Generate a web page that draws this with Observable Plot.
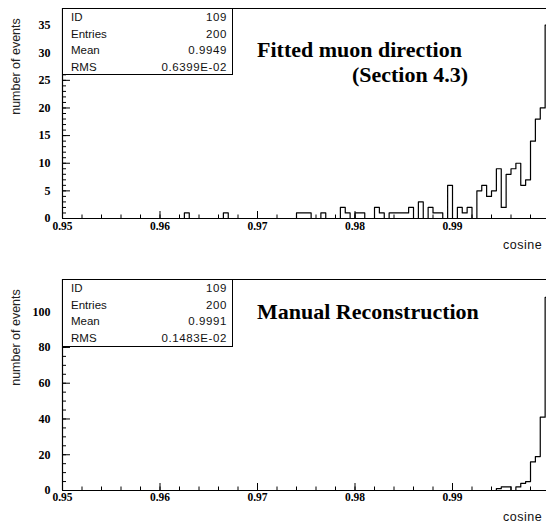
<!DOCTYPE html>
<html><head><meta charset="utf-8">
<script src="https://cdn.jsdelivr.net/npm/d3@7"></script>
<script src="https://cdn.jsdelivr.net/npm/@observablehq/plot@0.6"></script>
<style>
html,body{margin:0;padding:0;background:#fff;}
body{width:546px;height:526px;overflow:hidden;position:relative;}
.panel{position:relative;width:546px;overflow:hidden;}
.panel svg{display:block;}
.abs{position:absolute;white-space:nowrap;}
.title{font-family:"Liberation Serif",serif;font-weight:bold;font-size:22px;line-height:26px;color:#000;}
.stats{position:absolute;left:62px;width:171px;border:1px solid #000;background:#fff;box-sizing:border-box;font-family:"Liberation Sans",Arial,sans-serif;font-size:11.5px;color:#111;}
.stats .row{display:flex;justify-content:space-between;height:16.5px;line-height:16.5px;padding:0 5px 0 8px;}
.stats .val{letter-spacing:0.6px;}
.xlab{font-family:"Liberation Sans",Arial,sans-serif;font-size:12.5px;line-height:14px;color:#111;letter-spacing:0.5px;}
</style></head><body>
<div id="top" class="panel" style="height:252px"></div>
<div id="bot" class="panel" style="height:274px"></div>
<script>
// ---- data ----
const binStart = 0.95;
const binWidth = 0.0005;
const xDomain = [0.95, 0.99964];
const fittedCounts = [
  0,0,0,0,0,0,0,0,0,0,
  0,0,0,0,0,0,0,0,0,0,
  0,0,0,0,0,1,0,0,0,0,
  0,0,0,1,0,0,0,0,0,0,
  0,0,0,0,0,0,0,0,1,1,
  1,0,0,1,0,0,0,2,1,0,
  1,1,0,0,2,1,0,1,1,1,
  1,2,0,3,0,2,1,1,0,6,
  0,2,1,2,0,5,6,4,5,9,
  2,8,9,10,6,7,14,18,20,35
];
const manualCounts = [
  0,0,0,0,0,0,0,0,0,0,
  0,0,0,0,0,0,0,0,0,0,
  0,0,0,0,0,0,0,0,0,0,
  0,0,0,0,0,0,0,0,0,0,
  0,0,0,0,0,0,0,0,0,0,
  0,0,0,0,0,0,0,0,0,0,
  0,0,0,0,0,0,0,0,0,0,
  0,0,0,0,0,0,0,0,0,0,
  0,0,0,0,0,0,0,0,0,1,
  2,2,0,2,4,5,16,19,41,108
];
const xMajorTicks = [0.95, 0.96, 0.97, 0.98, 0.99];
const xMinorTicks = d3.range(0, 25).map(i => 0.95 + i * 0.002);
const fittedYMajor = [0, 5, 10, 15, 20, 25, 30, 35];
const fittedYMinor = d3.range(0, 39);
const fittedYMax = 38;
const manualYMajor = [0, 20, 40, 60, 80, 100];
const manualYMinor = d3.range(0, 120, 5);
const manualYMax = 118;
const fittedStats = [["ID", "109"], ["Entries", "200"], ["Mean", "0.9949"], ["RMS", "0.6399E-02"]];
const manualStats = [["ID", "109"], ["Entries", "200"], ["Mean", "0.9991"], ["RMS", "0.1483E-02"]];
const fittedTitle = ["Fitted muon direction", "(Section 4.3)"];
const manualTitle = ["Manual Reconstruction"];
const yTitle = "number of events";
const xTitle = "cosine";

const serif = "Liberation Serif, Times New Roman, serif";
const sans = "Liberation Sans, Arial, sans-serif";

function makePanel({counts, yMax, yMajor, yMinor, height, marginTop, marginBottom, labelDy}) {
  const width = 546, marginLeft = 62, marginRight = 0;
  const innerH = height - marginTop - marginBottom;
  const innerW = width - marginLeft - marginRight;
  const pts = counts.map((c, i) => ({x: binStart + i * binWidth, y: c}));
  pts.push({x: binStart + counts.length * binWidth, y: counts[counts.length - 1]});
  return Plot.plot({
    width, height, marginLeft, marginRight, marginTop, marginBottom,
    style: {background: "#fff", overflow: "visible"},
    x: {domain: xDomain, axis: null},
    y: {domain: [0, yMax], axis: null},
    marks: [
      Plot.line(pts, {x: "x", y: "y", curve: "step-after", stroke: "#000", strokeWidth: 1.2, clip: true}),
      Plot.tickX(xMinorTicks, {x: d => d, insetTop: innerH - 3.5, stroke: "#000"}),
      Plot.tickX(xMajorTicks, {x: d => d, insetTop: innerH - 7, stroke: "#000"}),
      Plot.tickY(yMinor, {y: d => d, insetRight: innerW - 4, stroke: "#000"}),
      Plot.tickY(yMajor, {y: d => d, insetRight: innerW - 8, stroke: "#000"}),
      Plot.ruleY([0], {stroke: "#000", strokeWidth: 1.2}),
      Plot.ruleY([yMax], {stroke: "#000", strokeWidth: 1}),
      Plot.ruleX([xDomain[0]], {stroke: "#000", strokeWidth: 1.2}),
      Plot.text(xMajorTicks, {x: d => d, frameAnchor: "bottom", dy: labelDy, lineAnchor: "middle",
        text: d => d.toFixed(2), fontFamily: serif, fontWeight: "bold", fontSize: 11.5, fill: "#000"}),
      Plot.text(yMajor, {y: d => d, frameAnchor: "left", dx: -12, textAnchor: "end", lineAnchor: "middle",
        text: d => String(d), fontFamily: serif, fontWeight: "bold", fontSize: 12, fill: "#000"}),
      Plot.text([yTitle], {frameAnchor: "top-left", dx: -47, dy: 58, rotate: -90, textAnchor: "middle",
        lineAnchor: "middle", text: d => d, fontFamily: sans, fontSize: 12.5, fill: "#222"})
    ]
  });
}

function addStats(container, stats, top, height) {
  const box = document.createElement("div");
  box.className = "stats";
  box.style.top = top + "px";
  box.style.height = height + "px";
  stats.forEach(([k, v]) => {
    const r = document.createElement("div");
    r.className = "row";
    r.innerHTML = `<span>${k}</span><span class="val">${v}</span>`;
    box.appendChild(r);
  });
  container.appendChild(box);
}
function addText(container, text, cls, style) {
  const d = document.createElement("div");
  d.className = "abs " + cls;
  d.textContent = text;
  Object.assign(d.style, style);
  container.appendChild(d);
}

const topDiv = document.getElementById("top");
topDiv.appendChild(makePanel({counts: fittedCounts, yMax: fittedYMax, yMajor: fittedYMajor, yMinor: fittedYMinor,
  height: 252, marginTop: 8, marginBottom: 34, labelDy: 8}));
addStats(topDiv, fittedStats, 8, 67);
addText(topDiv, fittedTitle[0], "title", {left: "257px", top: "37px"});
addText(topDiv, fittedTitle[1], "title", {right: (546 - 468) + "px", top: "62px"});
addText(topDiv, xTitle, "xlab", {left: "503px", top: "238px"});

const botDiv = document.getElementById("bot");
botDiv.appendChild(makePanel({counts: manualCounts, yMax: manualYMax, yMajor: manualYMajor, yMinor: manualYMinor,
  height: 274, marginTop: 27, marginBottom: 36, labelDy: 7}));
addStats(botDiv, manualStats, 27, 68);
addText(botDiv, manualTitle[0], "title", {left: "257px", top: "47px"});
addText(botDiv, xTitle, "xlab", {left: "503px", top: "258px"});
</script>
</body></html>
